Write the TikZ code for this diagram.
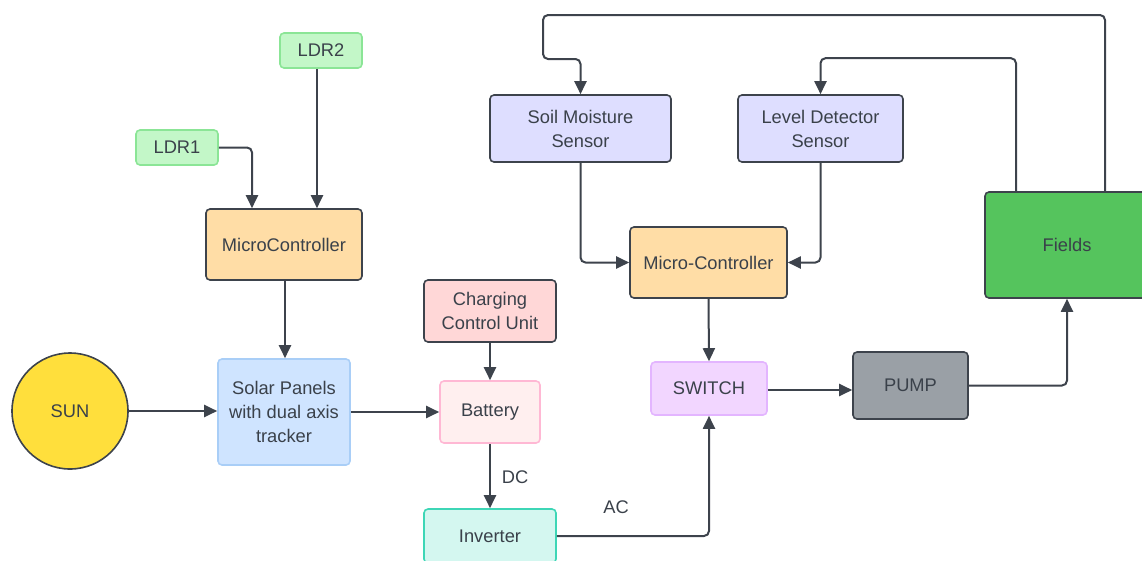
\documentclass[tikz,border=0pt]{standalone}
\usepackage{fontspec}
\setmainfont{Liberation Sans}
\usetikzlibrary{arrows.meta}
\definecolor{txt}{HTML}{3A414A}
\definecolor{ln}{HTML}{3D434C}
\definecolor{ldrf}{HTML}{C3F7C8}\definecolor{ldrb}{HTML}{8BE596}
\definecolor{orf}{HTML}{FFDDA6}
\definecolor{solf}{HTML}{CFE4FF}\definecolor{solb}{HTML}{A9CEF7}
\definecolor{ccuf}{HTML}{FFD7D7}
\definecolor{batf}{HTML}{FFEFEF}\definecolor{batb}{HTML}{FFB8D4}
\definecolor{invf}{HTML}{D4F7F0}\definecolor{invb}{HTML}{3ED6B6}
\definecolor{swf}{HTML}{F2D6FF}\definecolor{swb}{HTML}{E3B5FF}
\definecolor{senf}{HTML}{DEDEFF}
\definecolor{pmpf}{HTML}{9AA0A6}
\definecolor{fldf}{HTML}{55C45D}
\definecolor{sunf}{HTML}{FFDF3C}
\begin{document}
\begin{tikzpicture}[x=1pt,y=-1pt,
  box/.style={rectangle,rounded corners=4pt,line width=1.6pt,inner sep=0pt,align=center,text=txt,
    font=\fontsize{18.3}{24}\selectfont},
  dbox/.style={box,draw=ln},
  arr/.style={draw=ln,line width=2pt,rounded corners=5pt,-{Triangle[length=13pt,width=12pt]}},
  lbl/.style={text=txt,font=\fontsize{18.3}{22}\selectfont,inner sep=0pt}]
\useasboundingbox (0,0) rectangle (1142,560);
\begin{scope}
\clip (0,0) rectangle (1142,560);
% nodes
\node[box,fill=ldrf,draw=ldrb,minimum width=82pt,minimum height=35pt] (ldr2) at (321,50.5) {LDR2};
\node[box,fill=ldrf,draw=ldrb,minimum width=82pt,minimum height=35pt] (ldr1) at (177,147.5) {LDR1};
\node[dbox,fill=orf,minimum width=156pt,minimum height=71pt] (mc1) at (284,244.5) {MicroController};
\node[box,fill=solf,draw=solb,minimum width=132pt,minimum height=106pt] (sol) at (284,412) {Solar Panels\\with dual axis\\tracker};
\node[circle,draw=ln,line width=1.6pt,fill=sunf,minimum size=116pt,inner sep=0pt,text=txt,font=\fontsize{18.3}{22}\selectfont] (sun) at (70,411) {SUN};
\node[dbox,fill=ccuf,minimum width=132pt,minimum height=62pt] (ccu) at (490,311) {Charging\\Control Unit};
\node[box,fill=batf,draw=batb,minimum width=100pt,minimum height=62pt] (bat) at (490,412) {Battery};
\node[box,fill=invf,draw=invb,minimum width=132pt,minimum height=54pt] (inv) at (490,536) {Inverter};
\node[box,fill=swf,draw=swb,minimum width=116pt,minimum height=53pt] (sw) at (709,388.5) {SWITCH};
\node[dbox,fill=orf,minimum width=157pt,minimum height=71pt] (mc2) at (708.5,262.5) {Micro-Controller};
\node[dbox,fill=senf,minimum width=181pt,minimum height=67pt] (soil) at (580.5,128.5) {Soil Moisture\\Sensor};
\node[dbox,fill=senf,minimum width=165pt,minimum height=67pt] (lev) at (820.5,128.5) {Level Detector\\Sensor};
\node[dbox,fill=pmpf,minimum width=115pt,minimum height=67pt] (pump) at (910.5,385.5) {PUMP};
\node[dbox,fill=fldf,minimum width=164pt,minimum height=106pt] (fld) at (1067,245) {Fields};
\coordinate (t1) at (543,15);
\coordinate (t2) at (543,59);
% connectors
\draw[arr] (ldr1.east) -| ([xshift=-32pt]mc1.north);
\draw[arr] ([xshift=-4pt]ldr2.south) -- ([xshift=-4pt]ldr2.south |- mc1.north);
\draw[arr] ([xshift=1pt]mc1.south) -- ([xshift=1pt]sol.north);
\draw[arr] (sun.east) -- (sol.west |- sun.east);
\draw[arr] (sol.east) -- (bat.west);
\draw[arr] (ccu.south) -- (bat.north);
\draw[arr] (bat.south) -- (inv.north);
\node[lbl] (dc) at (515,477) {DC};
\draw[arr] (inv.east) -| (sw.south);
\node[lbl] (ac) at (616,507) {AC};
\draw[arr] (soil.south) |- (mc2.west);
\draw[arr] (lev.south) |- (mc2.east);
\draw[arr] (mc2.south) -- (sw.north);
\draw[arr] ([yshift=-1.5pt]sw.east) -- ([yshift=-1.5pt]sw.east -| pump.west);
\draw[arr] (pump.east) -| (fld.south);
\draw[arr] ([xshift=-51pt]fld.north) -- ++(0,-133) -| (lev.north);
\draw[arr] ([xshift=38pt]fld.north) |- (t1) -- (t2) -| (soil.north);
\end{scope}
\end{tikzpicture}
\end{document}
